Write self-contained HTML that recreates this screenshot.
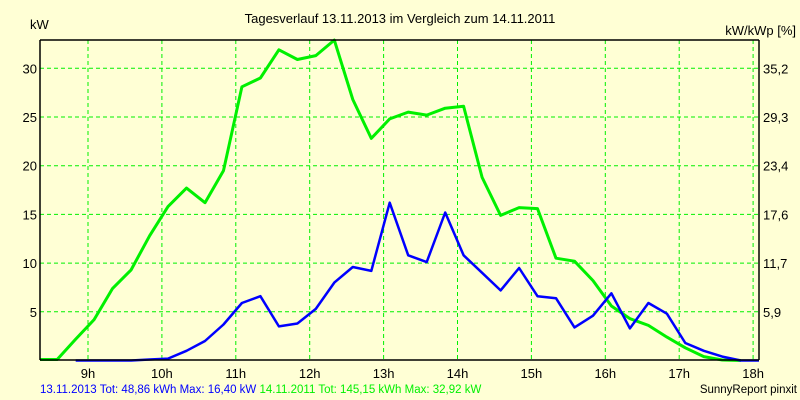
<!DOCTYPE html>
<html><head><meta charset="utf-8"><style>
html,body{margin:0;padding:0;background:#ffffd5;}
svg{display:block;font-family:"Liberation Sans",sans-serif;}
</style></head><body>
<svg width="800" height="400" viewBox="0 0 800 400">
<rect x="0" y="0" width="800" height="400" fill="#ffffd5"/>
<text x="400" y="23" font-size="13" text-anchor="middle" fill="#000">Tagesverlauf 13.11.2013 im Vergleich zum 14.11.2011</text>
<text x="30" y="29" font-size="13" fill="#000">kW</text>
<text x="796" y="35" font-size="13" text-anchor="end" fill="#000">kW/kWp [%]</text>
<g id="grid"></g>
<g id="series"></g>
<line x1="40" y1="40" x2="759" y2="40" stroke="#000" stroke-width="1.5"/>
<line x1="40" y1="40" x2="40" y2="360" stroke="#000" stroke-width="1.5"/>
<line x1="40" y1="360" x2="759" y2="360" stroke="#000" stroke-width="1.5"/>
<line x1="759" y1="40" x2="759" y2="360" stroke="#000" stroke-width="1.5"/>
<g id="labels"></g>
<text x="40" y="393" font-size="11.5"><tspan fill="#0000ff">13.11.2013 Tot: 48,86 kWh Max: 16,40 kW </tspan><tspan fill="#00f000">14.11.2011 Tot: 145,15 kWh Max: 32,92 kW</tspan></text>
<text x="797" y="393" font-size="11.5" text-anchor="end" fill="#000">SunnyReport pinxit</text>
</svg>
<script>
const hourTicks = [9,10,11,12,13,14,15,16,17,18];
const kwTicks = [5,10,15,20,25,30];
const pctTicks = ["5,9","11,7","17,6","23,4","29,3","35,2"];
const greenTimes = [8.35,8.583,8.833,9.083,9.333,9.583,9.833,10.083,10.333,10.583,10.833,11.083,11.333,11.583,11.833,12.083,12.333,12.583,12.833,13.083,13.333,13.583,13.833,14.083,14.333,14.583,14.833,15.083,15.333,15.583,15.833,16.083,16.333,16.583,16.833,17.083,17.333,17.583,17.833];
const greenValues = [0.1,0.1,2.2,4.2,7.4,9.3,12.8,15.8,17.7,16.2,19.5,28.1,29.0,31.9,30.9,31.3,32.9,26.8,22.8,24.8,25.5,25.2,25.9,26.1,18.8,14.9,15.7,15.6,10.5,10.2,8.2,5.6,4.3,3.6,2.4,1.3,0.4,0.05,0];
const blueTimes = [8.833,9.083,9.333,9.583,9.833,10.083,10.333,10.583,10.833,11.083,11.333,11.583,11.833,12.083,12.333,12.583,12.833,13.083,13.333,13.583,13.833,14.083,14.333,14.583,14.833,15.083,15.333,15.583,15.833,16.083,16.333,16.583,16.833,17.083,17.333,17.583,17.833,18.1];
const blueValues = [0,0,0,0,0.1,0.2,1.0,2.0,3.7,5.9,6.6,3.5,3.8,5.3,8.0,9.6,9.2,16.2,10.8,10.1,15.2,10.8,9.0,7.2,9.5,6.6,6.4,3.4,4.6,6.9,3.3,5.9,4.8,1.8,1.0,0.4,0,0];

const NS="http://www.w3.org/2000/svg";
function xs(h){return 88+(h-9)*73.9;}
function ys(v){return 360.5-v*9.74;}
const grid=document.getElementById('grid'),labels=document.getElementById('labels'),series=document.getElementById('series');
hourTicks.forEach(h=>{
  const l=document.createElementNS(NS,'line');
  l.setAttribute('x1',xs(h));l.setAttribute('x2',xs(h));l.setAttribute('y1',40);l.setAttribute('y2',360);
  l.setAttribute('stroke','#00f000');l.setAttribute('stroke-dasharray','4,3');
  
  
  grid.appendChild(l);
  const t=document.createElementNS(NS,'text');
  t.setAttribute('x',xs(h));t.setAttribute('y',378);t.setAttribute('font-size','13');t.setAttribute('text-anchor','middle');
  t.textContent=h+'h';
  
  
  labels.appendChild(t);
});
kwTicks.forEach((v,i)=>{
  const l=document.createElementNS(NS,'line');
  l.setAttribute('x1',40);l.setAttribute('x2',759);l.setAttribute('y1',ys(v));l.setAttribute('y2',ys(v));
  l.setAttribute('stroke','#00f000');l.setAttribute('stroke-dasharray','4,3');
  
  
  grid.appendChild(l);
  const t=document.createElementNS(NS,'text');
  t.setAttribute('x',37);t.setAttribute('y',ys(v)+5);t.setAttribute('font-size','13');t.setAttribute('text-anchor','end');
  t.textContent=v;
  
  
  labels.appendChild(t);
  const t2=document.createElementNS(NS,'text');
  t2.setAttribute('x',763);t2.setAttribute('y',ys(v)+5);t2.setAttribute('font-size','13');
  t2.textContent=pctTicks[i];
  
  
  labels.appendChild(t2);
});
function line(times,vals,color,w,name){
  const p=document.createElementNS(NS,'polyline');
  p.setAttribute('points',times.map((h,i)=>Math.min(759,xs(h)).toFixed(1)+','+ys(vals[i]).toFixed(1)).join(' '));
  p.setAttribute('fill','none');p.setAttribute('stroke',color);p.setAttribute('stroke-width',w);p.setAttribute('stroke-linejoin','round');
  
  
  series.appendChild(p);
}
line(greenTimes,greenValues,'#00f000',3,'series-2011-line');
line(blueTimes,blueValues,'#0000ff',2.5,'series-2013-line');
</script>
</body></html>
